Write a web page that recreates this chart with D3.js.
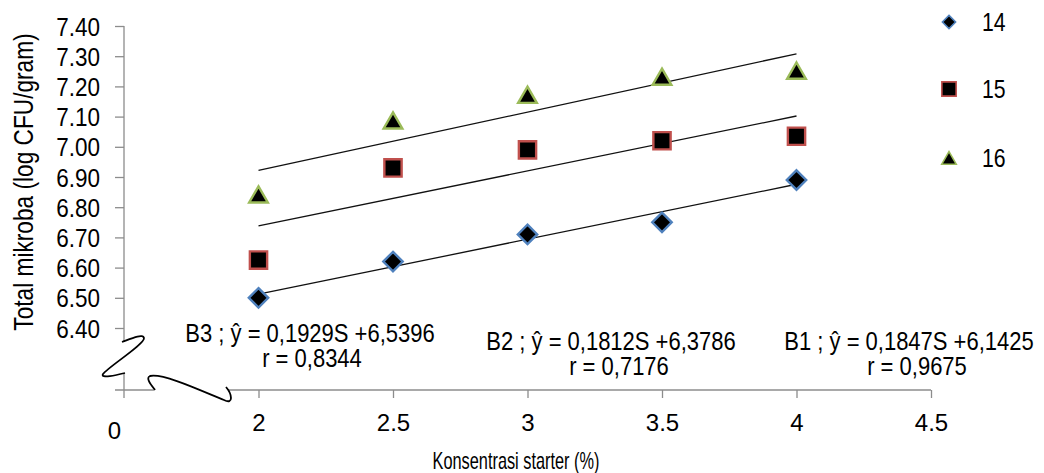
<!DOCTYPE html>
<html>
<head>
<meta charset="utf-8">
<script src="https://cdn.jsdelivr.net/npm/d3@7"></script>
<style>
  body { margin: 0; background: #fff; }
  svg text { font-family: "Liberation Sans", Arial, sans-serif; fill: #000; }
</style>
</head>
<body>
<div id="chart"></div>
<script>
// data
const concentrations = [2, 2.5, 3, 3.5, 4];
const seriesNames = ["14", "15", "16"];
const values14 = [6.50, 6.62, 6.71, 6.75, 6.89];
const values15 = [6.625, 6.93, 6.99, 7.02, 7.035];
const values16 = [6.84, 7.085, 7.17, 7.23, 7.25];
const yTicks = [6.4, 6.5, 6.6, 6.7, 6.8, 6.9, 7.0, 7.1, 7.2, 7.3, 7.4];
const xTicks = [1.5, 2, 2.5, 3, 3.5, 4, 4.5];
const xTickLabels = ["0", "2", "2.5", "3", "3.5", "4", "4.5"];
const equationLines = [
  "B3 ; \u0177 = 0,1929S +6,5396",
  "B2 ; \u0177 = 0,1812S +6,3786",
  "B1 ; \u0177 = 0,1847S +6,1425",
];
const rLines = ["r = 0,8344", "r = 0,7176", "r = 0,9675"];

const width = 1044;
const height = 473;

const svg = d3
  .select("#chart")
  .append("svg")
  .attr("width", width)
  .attr("height", height);

// scales
const xScale = d3.scaleLinear().domain([1.5, 4.5]).range([124, 931]);
const yScale = d3.scaleLinear().domain([6.4, 7.4]).range([328, 26]);
const axisY = 390; // where the x axis sits (below the 6.40 break)

const axisColor = "#8c8c8c";

// y axis
const yAxis = d3
  .axisLeft(yScale)
  .tickValues(yTicks)
  .tickFormat(d3.format(".2f"))
  .tickSize(9)
  .tickSizeOuter(0);

const gy = svg.append("g").attr("transform", "translate(124,0)").call(yAxis);
gy.select(".domain").remove();
gy.selectAll("line").attr("stroke", axisColor).attr("stroke-width", 1.3);
gy.selectAll("text")
  .style("font-size", "25px")
  .attr("dy", "0.36em")
  .attr("transform", "scale(0.9,1)")
  .attr("x", -24 / 0.9);

gy.append("line")
  .attr("x1", 0)
  .attr("x2", 0)
  .attr("y1", yScale(7.4))
  .attr("y2", axisY + 8)
  .attr("stroke", axisColor)
  .attr("stroke-width", 1.3);

// x axis
const xAxis = d3
  .axisBottom(xScale)
  .tickValues(xTicks)
  .tickFormat((d, i) => xTickLabels[i])
  .tickSize(8)
  .tickSizeOuter(0)
  .tickPadding(16);

const gx = svg
  .append("g")
  .attr("transform", `translate(0,${axisY})`)
  .call(xAxis);
gx.select(".domain").remove();
gx.selectAll("line").attr("stroke", axisColor).attr("stroke-width", 1.3);
gx.selectAll(".tick").filter((d) => d === 1.5).select("line").remove();
gx.selectAll("text").style("font-size", "24px").attr("dy", "0.71em");
gx.selectAll(".tick")
  .filter((d) => d === 1.5)
  .select("text")
  .attr("x", -10)
  .attr("y", 32);

gx.append("line")
  .attr("x1", 115)
  .attr("x2", xScale(4.5))
  .attr("y1", 0)
  .attr("y2", 0)
  .attr("stroke", axisColor)
  .attr("stroke-width", 1.3);

// axis break: white gaps + squiggles
svg.append("rect").attr("x", 119).attr("y", 341).attr("width", 10).attr("height", 33).attr("fill", "#fff");
svg.append("rect").attr("x", 154).attr("y", 386).attr("width", 74).attr("height", 8).attr("fill", "#fff");
svg
  .append("path")
  .attr("d", "M122,342 C130,339 143,333 144,338 C145,344 108,367 103,374 C100,379 117,375 125,373")
  .attr("fill", "none")
  .attr("stroke", "#000")
  .attr("stroke-width", 1.8);
svg
  .append("path")
  .attr("d", "M155,390 C152,386 145,378 150,376 C164,373 204,392 224,400 C234,405 232,394 226,387")
  .attr("fill", "none")
  .attr("stroke", "#000")
  .attr("stroke-width", 1.8);

// trend lines (least squares on each series)
function fit(xs, ys) {
  const mx = d3.mean(xs);
  const my = d3.mean(ys);
  const slope =
    d3.sum(xs, (x, i) => (x - mx) * (ys[i] - my)) /
    d3.sum(xs, (x) => (x - mx) * (x - mx));
  return (x) => my + slope * (x - mx);
}

const allSeries = [values14, values15, values16];
const x0 = d3.min(concentrations);
const x1 = d3.max(concentrations);

allSeries.forEach((vals) => {
  const f = fit(concentrations, vals);
  svg
    .append("line")
    .attr("x1", xScale(x0))
    .attr("y1", yScale(f(x0)))
    .attr("x2", xScale(x1))
    .attr("y2", yScale(f(x1)))
    .attr("stroke", "#111")
    .attr("stroke-width", 1.3);
});

// markers
const markerStyle = [
  { symbol: d3.symbolDiamond2, size: 240, legendSize: 110, stroke: "#4f81bd" },
  { symbol: d3.symbolSquare2, size: 380, legendSize: 260, stroke: "#c0504d" },
  { symbol: d3.symbolTriangle2, size: 250, legendSize: 150, stroke: "#9bbb59" },
];

allSeries.forEach((vals, s) => {
  const st = markerStyle[s];
  svg
    .append("g")
    .selectAll("path")
    .data(vals)
    .enter()
    .append("path")
    .attr("d", d3.symbol().type(st.symbol).size(st.size))
    .attr("transform", (d, i) => {
      const dy = s === 2 ? 2 : 0;
      return `translate(${xScale(concentrations[i])},${yScale(d) + dy})`;
    })
    .attr("fill", "#000")
    .attr("stroke", st.stroke)
    .attr("stroke-width", 2.4);
});

// legend
const legendY = [22, 89, 158];
seriesNames.forEach((name, s) => {
  const st = markerStyle[s];
  svg
    .append("path")
    .attr("d", d3.symbol().type(st.symbol).size(st.legendSize))
    .attr("transform", `translate(949,${legendY[s] + (s === 2 ? 2 : 0)})`)
    .attr("fill", "#000")
    .attr("stroke", st.stroke)
    .attr("stroke-width", 1.6);
  svg
    .append("text")
    .attr("transform", `translate(982,${legendY[s]}) scale(0.85,1)`)
    .attr("dy", "0.36em")
    .style("font-size", "25px")
    .text(name);
});

// regression annotations
const annX = [310, 611, 909];
const annY = [342, 350, 350];
equationLines.forEach((t, i) => {
  svg
    .append("text")
    .attr("transform", `translate(${annX[i]},${annY[i]}) scale(0.88,1)`)
    .attr("text-anchor", "middle")
    .style("font-size", "25px")
    .text(t);
  svg
    .append("text")
    .attr("transform", `translate(${annX[i] + (i === 0 ? 2 : 8)},${annY[i] + 25}) scale(0.88,1)`)
    .attr("text-anchor", "middle")
    .style("font-size", "25px")
    .text(rLines[i]);
});

// axis titles
svg
  .append("text")
  .attr("transform", "translate(516,469) scale(0.68,1)")
  .attr("text-anchor", "middle")
  .style("font-size", "24px")
  .text("Konsentrasi starter (%)");

svg
  .append("text")
  .attr("transform", "translate(33,182) rotate(-90) scale(0.84,1)")
  .attr("text-anchor", "middle")
  .style("font-size", "27px")
  .text("Total mikroba (log CFU/gram)");
</script>
</body>
</html>
